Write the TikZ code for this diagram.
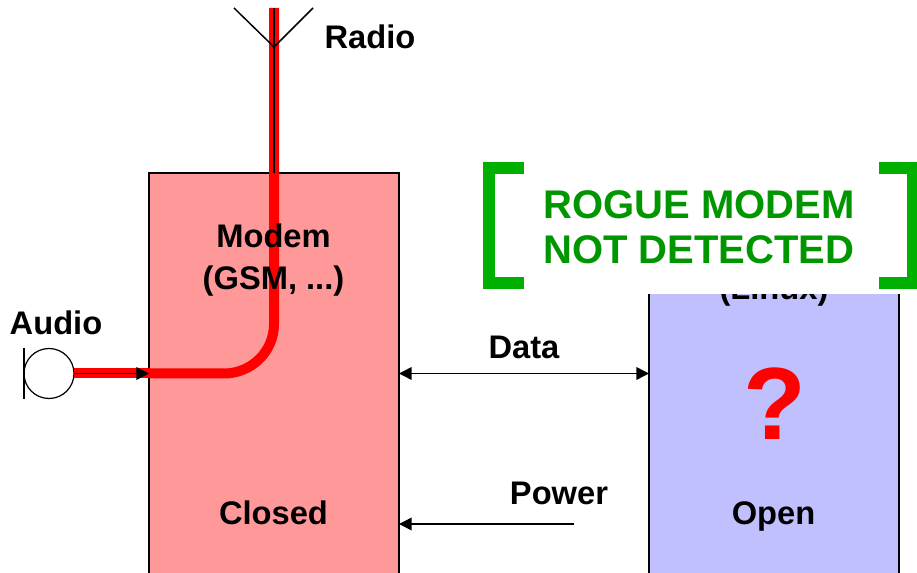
\documentclass[tikz,border=0pt]{standalone}
\usepackage{fontspec}
\setmainfont{Liberation Sans}
\usetikzlibrary{arrows.meta}
\definecolor{boxred}{RGB}{255,153,153}
\definecolor{boxblue}{RGB}{192,192,255}
\definecolor{sigred}{RGB}{255,0,0}
\definecolor{stampgreen}{RGB}{0,176,0}
\definecolor{stamptext}{RGB}{0,150,0}
\tikzset{
  x=0.75pt,y=-0.75pt,
  unitbox/.style={draw=black,line width=1pt,outer sep=0,minimum width=187.5pt,minimum height=337.5pt,inner sep=0,anchor=north west},
  lbl/.style={font=\fontsize{24.5pt}{31.5pt}\selectfont\bfseries,text=black,inner sep=0,align=center},
  thin line/.style={draw=black,line width=1.1pt},
  sig/.style={draw=sigred,line width=7.5pt},
  tip/.style={-{Triangle[length=9.5pt,width=9.5pt]}},
  tiptwo/.style={{Triangle[length=9.5pt,width=9.5pt]}-{Triangle[length=9.5pt,width=9.5pt]}},
  bracket/.style={draw=stampgreen,line width=9pt},
}
\begin{document}
\begin{tikzpicture}
\useasboundingbox (0,0) rectangle (917,573);
\clip (0,0) rectangle (917,573);
\node[unitbox,fill=boxred] (modem) at (149,173) {};
\node[unitbox,fill=boxblue] (host) at (649,173) {};
\node[lbl] (lhostos) at (774,291) {(Linux)};
\node[lbl,anchor=base] (lopen) at (773.5,524) {Open};
\node[font=\fontsize{77pt}{77pt}\selectfont\bfseries,text=sigred,inner sep=0] (qm) at (775,404) {?};
% microphone and antenna
\node[draw=black,line width=0.9pt,circle,minimum size=37.5pt,inner sep=0,outer sep=0,fill=white] (mic) at (49,373.5) {};
\coordinate (micA) at (24,348);
\coordinate (micB) at (24,399);
\draw[thin line] (micA) -- (micB);
\coordinate (antTop) at (274,8);
\coordinate (antBase) at (274,47);
\coordinate (antL) at (234,8);
\coordinate (antR) at (313,8);
\coordinate (bend) at (224,373.5);
\coordinate (turn) at (274,324);
% red signal path
\draw[sig] (antTop) -- (turn) .. controls (274,351.5) and (251.5,373.5) .. (bend) -- (modem.west |- bend);
\draw[sig] (mic.east |- bend) -- (modem.west |- bend);
% black wiring
\draw[thin line] (antL) -- (antBase) -- (antR);
\draw[thin line] (antTop) -- (antBase |- modem.north);
\draw[thin line,tip] (mic.east |- bend) -- (modem.west |- bend);
\coordinate (dataL) at (modem.east |- bend);
\coordinate (dataR) at (host.west |- bend);
\draw[thin line,tiptwo] (dataL) -- (dataR);
\coordinate (powerR) at (574,524);
\draw[thin line,tip] (powerR) -- (modem.east |- powerR);
\node[lbl] (lmodem) at (273.5,260.5) {Modem\\(GSM, ...)};
\node[lbl,anchor=base] (lclosed) at (273.5,524) {Closed};
\node[lbl] (laudio) at (56,323) {Audio};
\node[lbl] (lradio) at (370,37) {Radio};
\node[lbl] (ldata) at (524,347.5) {Data};
\node[lbl] (lpower) at (559,493) {Power};
% stamp
\fill[white] (483,150) rectangle (917,294);
\draw[bracket] (524,168.5) -- (489,168.5) -- (489,283.5) -- (524,283.5);
\draw[bracket] (879,168.5) -- (913,168.5) -- (913,283.5) -- (879,283.5);
\node[font=\fontsize{30pt}{33.75pt}\selectfont\bfseries,text=stamptext,inner sep=0,align=center] (stamp) at (699,227) {ROGUE MODEM\\NOT DETECTED};
\end{tikzpicture}
\end{document}
